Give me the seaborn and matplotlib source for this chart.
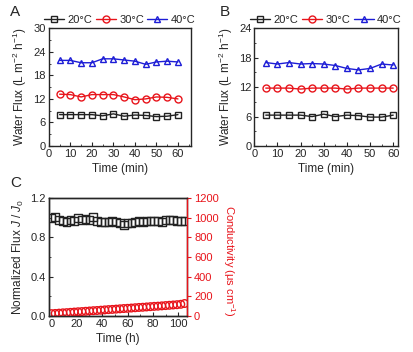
import numpy as np
import pandas as pd
import matplotlib
matplotlib.use('Agg')
import matplotlib.pyplot as plt
import seaborn as sns
from matplotlib.ticker import MultipleLocator
from matplotlib.lines import Line2D

sns.set_style('ticks')
plt.rcParams['font.family'] = ['Liberation Sans', 'DejaVu Sans']
plt.rcParams['mathtext.fontset'] = 'custom'
plt.rcParams['mathtext.it'] = 'Liberation Sans:italic'
plt.rcParams['mathtext.rm'] = 'Liberation Sans'

# data
time_min = [5, 10, 15, 20, 25, 30, 35, 40, 45, 50, 55, 60]
temps = ['20°C', '30°C', '40°C']

flux_a_20 = [8.0, 8.0, 8.0, 8.0, 7.7, 8.2, 7.6, 7.9, 7.8, 7.5, 7.6, 8.0]
flux_a_30 = [13.2, 13.1, 12.5, 13.1, 13.1, 13.1, 12.5, 11.8, 12.0, 12.5, 12.4, 12.0]
flux_a_40 = [21.8, 21.8, 21.2, 21.2, 22.2, 22.2, 21.9, 21.6, 20.8, 21.4, 21.6, 21.4]

flux_b_20 = [6.3, 6.3, 6.3, 6.3, 6.0, 6.5, 6.0, 6.3, 6.2, 5.9, 5.9, 6.3]
flux_b_30 = [11.8, 11.8, 11.8, 11.6, 11.8, 11.8, 11.8, 11.6, 11.8, 11.8, 11.8, 11.8]
flux_b_40 = [17.0, 16.7, 17.0, 16.7, 16.8, 16.7, 16.4, 15.8, 15.5, 15.8, 16.7, 16.5]

time_h = [0, 3, 6, 9, 12, 15, 18, 21, 24, 27, 30, 33, 36, 39, 42, 45, 48, 51,
          54, 57, 60, 63, 66, 69, 72, 75, 78, 81, 84, 87, 90, 93, 96, 99, 102, 105]
norm_flux = [1.00, 1.01, 0.98, 0.97, 0.96, 0.98, 0.97, 1.00, 0.98, 0.99, 0.98, 1.01,
             0.97, 0.96, 0.96, 0.96, 0.97, 0.96, 0.95, 0.93, 0.95, 0.95, 0.96, 0.97,
             0.96, 0.97, 0.97, 0.97, 0.97, 0.96, 0.98, 0.98, 0.98, 0.97, 0.97, 0.97]
conductivity = [25, 27, 30, 33, 35, 38, 41, 44, 46, 49, 52, 55, 57, 60, 63, 66, 68, 71,
                74, 77, 79, 82, 85, 88, 90, 93, 96, 99, 101, 104, 107, 110, 113, 116, 120, 128]

colors = ['#222222', '#e8141b', '#1d1dd6']
markers = ['s', 'o', '^']
fs = 8

fig = plt.figure(figsize=(4.14, 3.52), dpi=100)
ax_a = fig.add_axes([0.118, 0.585, 0.343, 0.335])
ax_b = fig.add_axes([0.614, 0.585, 0.347, 0.335])
ax_c = fig.add_axes([0.118, 0.102, 0.334, 0.335])


def flux_panel(ax, series, ymax, xmax):
    for vals, c, m, lab in zip(series, colors, markers, temps):
        sns.lineplot(x=time_min, y=vals, ax=ax, color=c, marker=m, markersize=5,
                     markerfacecolor='none', markeredgecolor=c, markeredgewidth=1,
                     linewidth=1, label=lab, legend=False)
    ax.set_xlim(0, xmax)
    ax.set_ylim(0, ymax)
    ax.xaxis.set_major_locator(MultipleLocator(10))
    ax.xaxis.set_minor_locator(MultipleLocator(5))
    ax.yaxis.set_major_locator(MultipleLocator(6))
    ax.yaxis.set_minor_locator(MultipleLocator(3))
    ax.tick_params(which='both', direction='in', labelsize=fs, pad=2)
    ax.tick_params(which='major', length=3)
    ax.tick_params(which='minor', length=1.5)
    ax.set_xlabel('Time (min)', fontsize=fs + 0.5, labelpad=3)
    ax.set_ylabel('Water Flux (L m$^{-2}$ h$^{-1}$)', fontsize=fs + 0.5, labelpad=3)
    handles = [Line2D([], [], color=c, marker=m, markersize=5, markerfacecolor='none',
                      linewidth=1) for c, m in zip(colors, markers)]
    ax.legend(handles, temps, loc='lower center', bbox_to_anchor=(0.5, 0.99), ncol=3,
              frameon=False, fontsize=fs, handlelength=1.8, handletextpad=0.3,
              columnspacing=0.3, borderaxespad=0)
    for s in ax.spines.values():
        s.set_linewidth(1)


flux_panel(ax_a, [flux_a_20, flux_a_30, flux_a_40], 30, 66)
flux_panel(ax_b, [flux_b_20, flux_b_30, flux_b_40], 24, 62)

# panel C
sns.scatterplot(x=time_h, y=norm_flux, ax=ax_c, marker='s', s=30,
                facecolor='none', edgecolor='#222222', linewidth=1)
ax_c.set_xlim(-2, 107)
ax_c.set_ylim(0, 1.2)
ax_c.xaxis.set_major_locator(MultipleLocator(20))
ax_c.xaxis.set_minor_locator(MultipleLocator(10))
ax_c.yaxis.set_major_locator(MultipleLocator(0.4))
ax_c.yaxis.set_minor_locator(MultipleLocator(0.2))
ax_c.tick_params(which='both', direction='in', labelsize=fs, pad=2)
ax_c.tick_params(which='major', length=3)
ax_c.tick_params(which='minor', length=1.5)
ax_c.set_xlabel('Time (h)', fontsize=fs + 0.5, labelpad=3)
ax_c.set_ylabel('Normalized Flux $J$ / $J_0$', fontsize=fs + 0.5, labelpad=3)

ax_c2 = ax_c.twinx()
sns.scatterplot(x=time_h, y=conductivity, ax=ax_c2, marker='o', s=30,
                facecolor='none', edgecolor='#e8141b', linewidth=1)
ax_c2.set_ylim(0, 1200)
ax_c2.yaxis.set_major_locator(MultipleLocator(200))
ax_c2.tick_params(axis='y', colors='#e8141b', labelsize=fs, direction='out',
                  length=3, pad=2)
ax_c2.set_ylabel('Conductivity (μs cm$^{-1}$)', color='#e8141b', fontsize=fs,
                 rotation=-90, va='center', ha='center')
ax_c2.yaxis.set_label_coords(1.3, 0.47)
for s in list(ax_c.spines.values()) + list(ax_c2.spines.values()):
    s.set_linewidth(1)
ax_c2.spines['right'].set_color('#e8141b')

fig.text(0.024, 0.955, 'A', fontsize=11)
fig.text(0.532, 0.955, 'B', fontsize=11)
fig.text(0.024, 0.47, 'C', fontsize=11)

fig.savefig('out.png', dpi=100, facecolor='white')
